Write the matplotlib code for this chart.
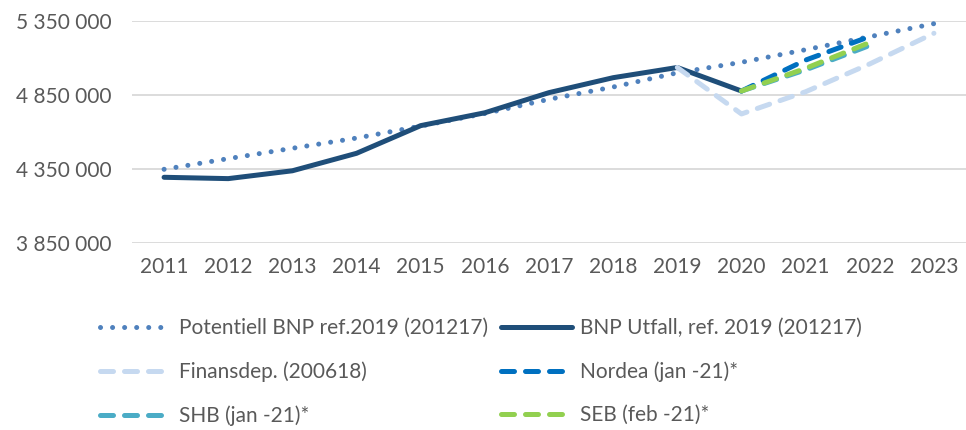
import numpy as np
import matplotlib
matplotlib.use("Agg")
import matplotlib.pyplot as plt
from matplotlib.ticker import FuncFormatter

years = np.arange(2011, 2024)
nan = np.nan

potentiell = [4348000, 4420000, 4490000, 4559000, 4640000, 4725000, 4821000,
              4904000, 5000000, 5071000, 5156000, 5244000, 5332000]
utfall = [4294000, 4285000, 4338000, 4456000, 4643000, 4730000, 4866000,
          4967000, 5036000, 4877000, nan, nan, nan]
finansdep = [nan, nan, nan, nan, nan, nan, nan, nan,
             5036000, 4722000, 4872000, 5060000, 5267000]
nordea = [nan] * 9 + [4877000, 5086000, 5245000, nan]
shb = [nan] * 9 + [4877000, 5020000, 5185000, nan]
seb = [nan] * 9 + [4877000, 5030000, 5205000, nan]

yticks = [3850000, 4350000, 4850000, 5350000]

plt.rcParams["font.family"] = ["Lato", "DejaVu Sans"]
TXT = "#595959"
FS = 15

fig = plt.figure(figsize=(9.66, 4.30), dpi=100)
ax = fig.add_axes([132 / 966, 1 - 243 / 430, 1 - 132 / 966, (243 - 21) / 430])

lw = 3.6
ax.plot(years, potentiell, color="#4F81BD", lw=lw, dashes=(0.01, 2.4),
        dash_capstyle="round", label="Potentiell BNP ref.2019 (201217)")
ax.plot(years, utfall, color="#1F4E79", lw=lw, solid_capstyle="round",
        solid_joinstyle="round", label="BNP Utfall, ref. 2019 (201217)")
ax.plot(years, finansdep, color="#C6D9F0", lw=lw, dashes=(2.6, 2.2),
        dash_capstyle="round", label="Finansdep. (200618)")
ax.plot(years, nordea, color="#0070C0", lw=lw, dashes=(2.6, 2.2),
        dash_capstyle="round", label="Nordea (jan -21)*")
ax.plot(years, shb, color="#4BACC6", lw=lw, dashes=(2.6, 2.2),
        dash_capstyle="round", label="SHB (jan -21)*")
ax.plot(years, seb, color="#92D050", lw=lw, dashes=(2.6, 2.2),
        dash_capstyle="round", label="SEB (feb -21)*")

ax.set_xlim(2010.5, 2023.5)
ax.set_ylim(3850000, 5350000)
ax.set_xticks(years)
ax.set_xticklabels([str(y) for y in years])
ax.set_yticks(yticks)
ax.yaxis.set_major_formatter(FuncFormatter(lambda v, _: f"{v:,.0f}".replace(",", " ")))
ax.grid(axis="y", color="#D9D9D9", lw=1.3)
ax.set_axisbelow(True)
for s in ax.spines.values():
    s.set_visible(False)
ax.tick_params(length=0, labelsize=FS, colors=TXT)
ax.tick_params(axis="x", pad=10)
ax.tick_params(axis="y", pad=15)

h, l = ax.get_legend_handles_labels()
order = [0, 2, 4, 1, 3, 5]
leg = fig.legend([h[i] for i in order], [l[i] for i in order], ncol=2,
                 loc="upper left", bbox_to_anchor=(100 / 966, 1 - 318 / 430),
                 frameon=False, fontsize=FS, handlelength=3.4, handletextpad=0.4,
                 columnspacing=0.6, labelspacing=1.12, borderaxespad=0, borderpad=0)
for t in leg.get_texts():
    t.set_color(TXT)

fig.savefig("out.png", dpi=100, facecolor="white")
